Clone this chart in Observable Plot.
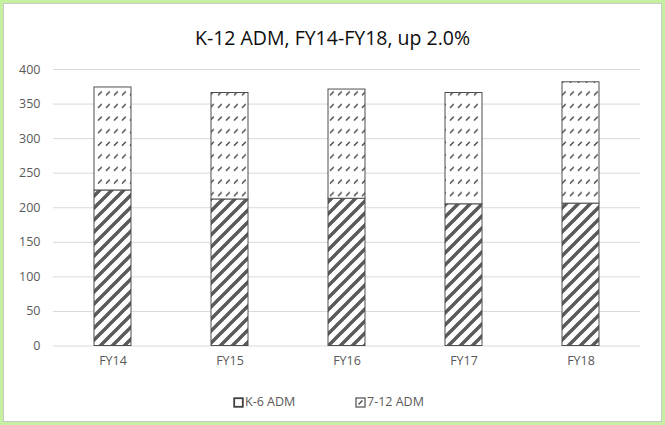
<!DOCTYPE html>
<html>
<head>
<meta charset="utf-8">
<script src="https://cdn.jsdelivr.net/npm/d3@7"></script>
<script src="https://cdn.jsdelivr.net/npm/@observablehq/plot@0.6"></script>
<style>
  html, body { margin: 0; padding: 0; background: #fff; }
  #page { position: relative; width: 665px; height: 425px; overflow: hidden; font-family: "Open Sans", sans-serif; background: #fff; }
  #outer { position: absolute; left: 0; top: 0; width: 665px; height: 425px; box-sizing: border-box; border: 3px solid #c4f0a0; }
  #inner { position: absolute; left: 3px; top: 3px; right: 3px; bottom: 3px; border: 1px solid #c9c9c9; }
  #title { position: absolute; left: 0; top: 25px; width: 665px; text-align: center; font-size: 19.5px; line-height: 26px; color: #0d0d0d; }
  #plot { position: absolute; left: 0; top: 50px; }
  .leg { position: absolute; top: 394px; font-size: 12.5px; line-height: 16px; color: #595959; }
  .legicon { position: absolute; top: 397px; }
</style>
</head>
<body>
<div id="page">
  <div id="outer"></div>
  <div id="inner"></div>
  <div id="title">K-12 ADM, FY14-FY18, up 2.0%</div>
  <div id="plot"></div>
  <svg class="legicon" style="left:233px" width="11" height="11"><rect x="1.2" y="1.2" width="8.6" height="8.6" fill="#fff" stroke="#404040" stroke-width="1.8"/></svg>
  <div class="leg" style="left:245px" id="leg1"></div>
  <svg class="legicon" style="left:355px" width="11" height="11"><rect x="1" y="1" width="9" height="9" fill="#fff" stroke="#595959" stroke-width="1.3"/><line x1="3.5" y1="7.5" x2="7.5" y2="3.5" stroke="#404040" stroke-width="1.3"/></svg>
  <div class="leg" style="left:367px" id="leg2"></div>
</div>
<script>
const years = ["FY14", "FY15", "FY16", "FY17", "FY18"];
const seriesNames = ["K-6 ADM", "7-12 ADM"];
const k6 = [225, 212, 213, 205, 206];
const g712 = [149, 154, 158, 161, 175.5];
const yTicks = [0, 50, 100, 150, 200, 250, 300, 350, 400];

const rows = [];
years.forEach((y, i) => {
  rows.push({year: y, series: seriesNames[0], value: k6[i]});
  rows.push({year: y, series: seriesNames[1], value: g712[i]});
});

document.getElementById("leg1").textContent = seriesNames[0];
document.getElementById("leg2").textContent = seriesNames[1];

const chart = Plot.plot({
  width: 665,
  height: 340,
  marginLeft: 53,
  marginRight: 25,
  marginTop: 19,
  marginBottom: 44.5,
  style: {fontFamily: "Open Sans, sans-serif", fontSize: "12.5px", color: "#595959", background: "transparent"},
  x: {domain: years, paddingInner: 0.686, paddingOuter: 0.343, label: null, tickSize: 0, tickPadding: 10},
  y: {domain: [0, 400], ticks: yTicks, label: null, tickSize: 0, tickPadding: 13},
  color: {domain: seriesNames, range: ["url(#pK6)", "url(#p712)"]},
  marks: [
    Plot.gridY(yTicks, {stroke: "#d9d9d9", strokeOpacity: 1, strokeWidth: 1}),
    Plot.barY(rows, Plot.stackY({x: "year", y: "value", fill: "series", stroke: "#4f4f4f", strokeWidth: 1, order: seriesNames})),
    Plot.axisY({ticks: yTicks, tickSize: 0, tickPadding: 13, fill: "#595959"}),
    Plot.axisX({tickSize: 0, tickPadding: 10, fill: "#595959"})
  ]
});

const defs = `<defs>
  <pattern id="pK6" patternUnits="userSpaceOnUse" width="12" height="12">
    <rect width="12" height="12" fill="#fff"/>
    <path d="M-3,3 L3,-3 M0,12 L12,0 M9,15 L15,9" stroke="#595959" stroke-width="3.4"/>
  </pattern>
  <pattern id="p712" patternUnits="userSpaceOnUse" width="8" height="12.6">
    <rect width="8" height="12.6" fill="#fff"/>
    <path d="M2,7.5 L5.8,3.7" stroke="#4a4a4a" stroke-width="1.5"/>
  </pattern>
</defs>`;
chart.insertAdjacentHTML("afterbegin", defs);
document.getElementById("plot").appendChild(chart);
</script>
</body>
</html>
